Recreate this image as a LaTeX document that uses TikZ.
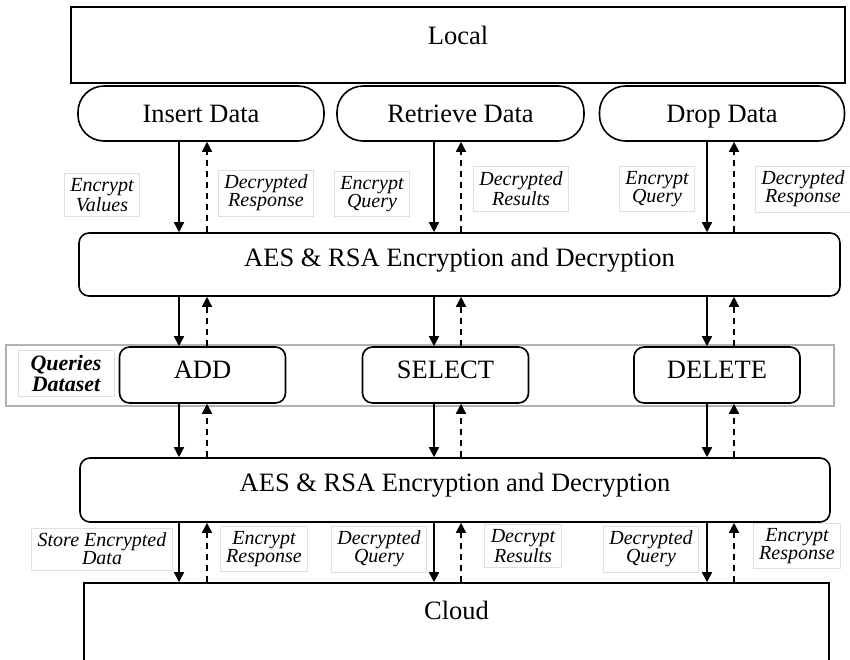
\documentclass[tikz,border=0pt]{standalone}
\usepackage{fontspec}
\setmainfont{Liberation Serif}
\usetikzlibrary{arrows.meta}
\tikzset{
  bigbox/.style={draw,line width=0.8pt,inner sep=0pt,font=\fontsize{13.25}{15}\selectfont},
  pill/.style={draw,line width=0.8pt,rounded corners=13pt,inner sep=0pt,minimum height=27.5pt,text height=10.5pt,text depth=2pt,font=\fontsize{13.25}{15}\selectfont},
  cryptbox/.style={bigbox,rounded corners=5pt},
  opbox/.style={bigbox,rounded corners=5pt,minimum width=83pt,minimum height=28pt,text height=15.5pt,text depth=12.5pt},
  tag/.style={draw=gray!25,line width=0.4pt,align=center,inner xsep=3pt,inner ysep=2.5pt,font=\fontsize{10}{9}\selectfont\itshape},
  downarr/.style={line width=0.75pt,-{Triangle[length=5pt,width=5pt]}},
  uparr/.style={downarr,dash pattern=on 3pt off 2.5pt},
}
\begin{document}
\begin{tikzpicture}[x=0.5pt,y=-0.5pt]
\useasboundingbox (0,0) rectangle (850,659);
\node (local) at (458,45) [bigbox,minimum width=387pt,text height=18.5pt,text depth=19.5pt] {Local};
\node (insert) at (201,113.5) [pill,minimum width=123pt] {Insert Data};
\node (retrieve) at (460.5,113.5) [pill,minimum width=123.5pt] {Retrieve Data};
\node (drop) at (722,113.5) [pill,minimum width=122.5pt] {Drop Data};
\node (aes1) at (459.5,264.5) [cryptbox,minimum width=380.5pt,text height=16.5pt,text depth=15pt] {AES \& RSA Encryption and Decryption};
\node (queries) at (420,375.5) [draw=gray!60,line width=1pt,minimum width=414pt,minimum height=30.5pt,inner sep=0pt] {};
\node (qlabel) at (66,373) [draw=gray!25,line width=0.4pt,minimum width=48pt,minimum height=23pt,inner sep=0pt,align=center,font=\fontsize{11}{10.5}\selectfont\bfseries\itshape] {Queries\\Dataset};
\node (add) at (202.5,375) [opbox] {ADD};
\node (select) at (445.5,375) [opbox] {SELECT};
\node (delete) at (717,375) [opbox] {DELETE};
\node (aes2) at (455,490) [cryptbox,minimum width=375pt,text height=16.5pt,text depth=15.5pt] {AES \& RSA Encryption and Decryption};
\node (cloud) at (456.5,623) [bigbox,minimum width=372.5pt,text height=18pt,text depth=22pt] {Cloud};
% labels at the arrows
\node (ev) at (102,195) [tag] {Encrypt\\Values};
\node (dr1) at (266,193) [tag] {Decrypted\\Response};
\node (eq1) at (372,194) [tag] {Encrypt\\Query};
\node (dres) at (521,189) [tag] {Decrypted\\Results};
\node (eq2) at (657,189) [tag] {Encrypt\\Query};
\node (dr2) at (803,189) [tag] {Decrypted\\Response};
\node (sed) at (102,549) [tag] {Store Encrypted\\Data};
\node (er1) at (264,549) [tag] {Encrypt\\Response};
\node (dq1) at (379,549) [tag] {Decrypted\\Query};
\node (drs) at (523,546) [tag] {Decrypt\\Results};
\node (dq2) at (651,549) [tag] {Decrypted\\Query};
\node (er2) at (797,546) [tag] {Encrypt\\Response};
% arrow columns
\coordinate (s1) at (179,0); \coordinate (d1) at (207,0);
\coordinate (s2) at (434,0); \coordinate (d2) at (461,0);
\coordinate (s3) at (707,0); \coordinate (d3) at (734,0);
\foreach \u/\m/\s/\d in {insert/add/s1/d1,retrieve/select/s2/d2,drop/delete/s3/d3} {
  \draw[downarr] (\u.south -| \s) -- (aes1.north -| \s);
  \draw[uparr] (aes1.north -| \d) -- (\u.south -| \d);
  \draw[downarr] (aes1.south -| \s) -- (\m.north -| \s);
  \draw[uparr] (\m.north -| \d) -- (aes1.south -| \d);
  \draw[downarr] (\m.south -| \s) -- (aes2.north -| \s);
  \draw[uparr] (aes2.north -| \d) -- (\m.south -| \d);
  \draw[downarr] (aes2.south -| \s) -- (cloud.north -| \s);
  \draw[uparr] (cloud.north -| \d) -- (aes2.south -| \d);
}
\end{tikzpicture}
\end{document}
